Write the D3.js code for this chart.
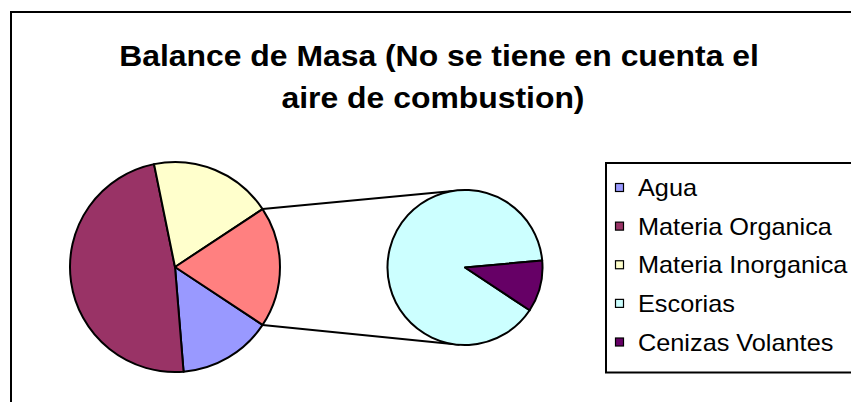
<!DOCTYPE html>
<html><head><meta charset="utf-8">
<script src="https://cdn.jsdelivr.net/npm/d3@7"></script>
<style>html,body{margin:0;padding:0;background:#fff;overflow:hidden}svg{display:block}</style>
</head><body>
<svg id="c" width="851" height="402"></svg>
<script>
// ---- data ----
const titleLines = ["Balance de Masa (No se tiene en cuenta el", "aire de combustion)"];
const mainCategories = ["Agua", "Materia Organica", "Materia Inorganica"];
const mainValues = [14.4, 48.1, 18.9];
const secondCategories = ["Escorias", "Cenizas Volantes"];
const secondValues = [16.6, 2.0];
const legendLabels = ["Agua", "Materia Organica", "Materia Inorganica", "Escorias", "Cenizas Volantes"];
const colors = {
  "Agua": "#9999FF", "Materia Organica": "#993366", "Materia Inorganica": "#FFFFCC",
  "Otro": "#FF8080", "Escorias": "#CCFFFF", "Cenizas Volantes": "#660066"
};

const svg = d3.select("#c");
const font = "'Liberation Sans', Arial, sans-serif";
const stretch = 1.1;

// chart border (extends beyond viewport on right/bottom)
svg.append("rect").attr("x", 11).attr("y", 12).attr("width", 900).attr("height", 450)
  .attr("fill", "none").attr("stroke", "#000").attr("stroke-width", 2);

// title
const titleX = [439, 433];
svg.append("g").selectAll("text").data(titleLines).join("text")
  .attr("transform", (d, i) => `translate(${titleX[i]},${66 + i * 42}) scale(${stretch},1)`)
  .attr("text-anchor", "middle").attr("font-family", font).attr("font-weight", "bold")
  .attr("font-size", 29).attr("fill", "#000").text(d => d);

// pies
const otherTotal = d3.sum(secondValues);
const total = d3.sum(mainValues) + otherTotal;
const otherAngle = otherTotal / total * 2 * Math.PI;
const a0 = Math.PI / 2 + otherAngle / 2;

const mainData = mainCategories.map((c, i) => ({cat: c, v: mainValues[i]}))
  .concat([{cat: "Otro", v: otherTotal}]);
const secondData = secondCategories.map((c, i) => ({cat: c, v: secondValues[i]}));

const c1 = {x: 175, y: 267, r: 105};
const c2 = {x: 465, y: 267.5, r: 77.5};

const pie1 = d3.pie().sort(null).value(d => d.v).startAngle(a0).endAngle(a0 + 2 * Math.PI);
const pie2 = d3.pie().sort(null).value(d => d.v).startAngle(a0).endAngle(a0 + 2 * Math.PI);

const arc1 = d3.arc().innerRadius(0).outerRadius(c1.r);
const arc2 = d3.arc().innerRadius(0).outerRadius(c2.r);

const pt = (c, a) => [c.x + c.r * Math.sin(a), c.y - c.r * Math.cos(a)];

// connector lines
const topA = -9 * Math.PI / 180, botA = 184 * Math.PI / 180;
const conns = [[pt(c1, a0 - otherAngle), pt(c2, topA)], [pt(c1, a0), pt(c2, botA)]];
svg.append("g").selectAll("line").data(conns).join("line")
  .attr("x1", d => d[0][0]).attr("y1", d => d[0][1])
  .attr("x2", d => d[1][0]).attr("y2", d => d[1][1])
  .attr("stroke", "#000").attr("stroke-width", 2);

svg.append("g").attr("transform", `translate(${c1.x},${c1.y})`)
  .selectAll("path").data(pie1(mainData)).join("path")
  .attr("d", arc1).attr("fill", d => colors[d.data.cat])
  .attr("stroke", "#000").attr("stroke-width", 2).attr("stroke-linejoin", "round");

svg.append("g").attr("transform", `translate(${c2.x},${c2.y})`)
  .selectAll("path").data(pie2(secondData)).join("path")
  .attr("d", arc2).attr("fill", d => colors[d.data.cat])
  .attr("stroke", "#000").attr("stroke-width", 2).attr("stroke-linejoin", "round");

// legend
const lg = svg.append("g");
lg.append("rect").attr("x", 606).attr("y", 163).attr("width", 300).attr("height", 209.5)
  .attr("fill", "#fff").attr("stroke", "#000").attr("stroke-width", 2);
const rowY = d3.scalePoint().domain(legendLabels).range([187.5, 342]);
const items = lg.selectAll("g.it").data(legendLabels).join("g").attr("class", "it")
  .attr("transform", d => `translate(0,${rowY(d)})`);
items.append("rect").attr("x", 615.5).attr("y", -4).attr("width", 8).attr("height", 8)
  .attr("fill", d => colors[d]).attr("stroke", "#000").attr("stroke-width", 1.2);
items.append("text").attr("transform", `translate(638,8.5) scale(${stretch},1)`)
  .attr("font-family", font).attr("font-size", 23).attr("fill", "#000").text(d => d);
</script>
</body></html>
